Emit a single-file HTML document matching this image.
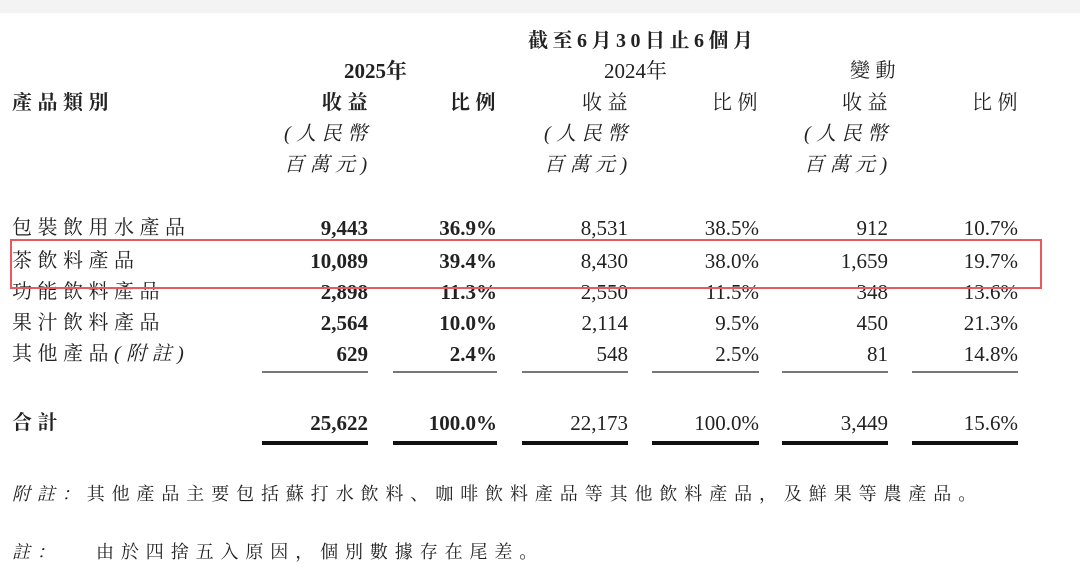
<!DOCTYPE html>
<html><head><meta charset="utf-8"><style>
body{margin:0;width:1080px;height:575px;background:#fff;position:relative;overflow:hidden;font-family:"Liberation Serif","Noto Serif CJK SC",serif;color:#222}
.t{position:absolute;white-space:nowrap;line-height:1}
.r{text-align:right}
.n{font-size:21px}
.b{font-weight:bold}
.c{font-size:20px;letter-spacing:5.5px}
.l{position:absolute;height:2px;background:#777}
.d{position:absolute;height:4px;background:#111}
</style></head><body>
<div style="position:absolute;left:0;top:0;width:1080px;height:13px;background:#f3f3f3"></div>
<div class="t b c" style="left:528px;top:31px;letter-spacing:4.5px">截至6月30日止6個月</div>
<div class="t b" style="left:344px;top:61px;font-size:21px">2025年</div>
<div class="t" style="left:604px;top:61px;font-size:21px">2024年</div>
<div class="t c" style="left:850px;top:61px">變動</div>
<div class="t b c" style="left:12px;top:93px">產品類別</div>
<div class="t b c" style="left:322px;top:93px">收益</div><div class="t b c" style="left:450px;top:93px">比例</div>
<div class="t c" style="left:582px;top:93px">收益</div><div class="t c" style="left:712px;top:93px">比例</div>
<div class="t c" style="left:842px;top:93px">收益</div><div class="t c" style="left:972px;top:93px">比例</div>
<div class="t c" style="left:284px;top:124px;font-style:italic">(人民幣</div>
<div class="t c" style="left:284px;top:155px;font-style:italic">百萬元)</div>
<div class="t c" style="left:544px;top:124px;font-style:italic">(人民幣</div>
<div class="t c" style="left:544px;top:155px;font-style:italic">百萬元)</div>
<div class="t c" style="left:804px;top:124px;font-style:italic">(人民幣</div>
<div class="t c" style="left:804px;top:155px;font-style:italic">百萬元)</div>

<div class="t c" style="left:12px;top:218px">包裝飲用水產品</div>
<div class="t c" style="left:12px;top:251px">茶飲料產品</div>
<div class="t c" style="left:12px;top:282px">功能飲料產品</div>
<div class="t c" style="left:12px;top:313px">果汁飲料產品</div>
<div class="t c" style="left:12px;top:344px">其他產品<i>(附註)</i></div>
<div class="t b c" style="left:12px;top:413px">合計</div>

<div id="nums"></div>
<div style="position:absolute;left:10px;top:239px;width:1028px;height:46px;border:2px solid #e85a5f"></div>

<div class="l" style="left:262px;top:371px;width:106px"></div>
<div class="l" style="left:393px;top:371px;width:104px"></div>
<div class="l" style="left:522px;top:371px;width:106px"></div>
<div class="l" style="left:652px;top:371px;width:107px"></div>
<div class="l" style="left:782px;top:371px;width:106px"></div>
<div class="l" style="left:912px;top:371px;width:106px"></div>
<div class="d" style="left:262px;top:441px;width:106px"></div>
<div class="d" style="left:393px;top:441px;width:104px"></div>
<div class="d" style="left:522px;top:441px;width:106px"></div>
<div class="d" style="left:652px;top:441px;width:107px"></div>
<div class="d" style="left:782px;top:441px;width:106px"></div>
<div class="d" style="left:912px;top:441px;width:106px"></div>

<div class="t" style="left:12px;top:485px;font-size:18px;letter-spacing:6.9px"><i>附註：</i>其他產品主要包括蘇打水飲料、咖啡飲料產品等其他飲料產品，及鮮果等農產品。</div>
<div class="t" style="left:12px;top:543px;font-size:18px;letter-spacing:6.9px"><i>註：</i>&nbsp;&nbsp;&nbsp;由於四捨五入原因，個別數據存在尾差。</div>

<script>
var rows=[[218,["9,443","36.9%","8,531","38.5%","912","10.7%"]],[251,["10,089","39.4%","8,430","38.0%","1,659","19.7%"]],[282,["2,898","11.3%","2,550","11.5%","348","13.6%"]],[313,["2,564","10.0%","2,114","9.5%","450","21.3%"]],[344,["629","2.4%","548","2.5%","81","14.8%"]],[413,["25,622","100.0%","22,173","100.0%","3,449","15.6%"]]];
var R=[368,497,628,759,888,1018],h="";
rows.forEach(function(r){r[1].forEach(function(v,i){h+='<div class="t n r'+(i<2?' b':'')+'" style="right:'+(1080-R[i])+'px;top:'+r[0]+'px">'+v+'</div>';});});
document.getElementById("nums").innerHTML=h;
</script>
</body></html>
